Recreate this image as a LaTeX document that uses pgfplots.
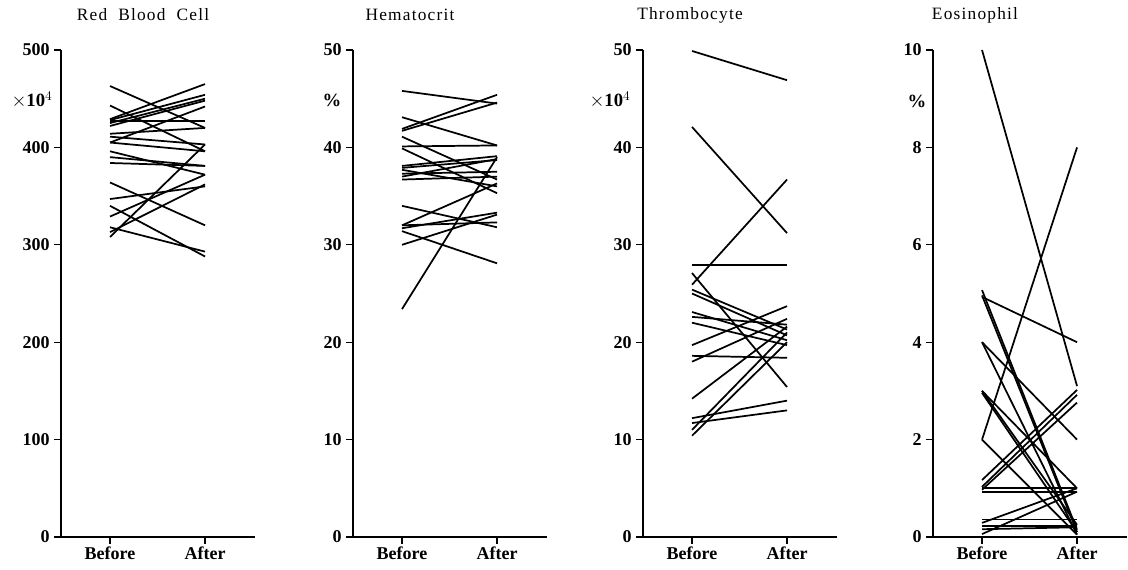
\documentclass[border=0pt]{standalone}
\usepackage{pgfplots}
\pgfplotsset{compat=1.18}
\usepackage{fontspec}
\setmainfont{Liberation Serif}
\newfontfamily\titlefont[LetterSpace=7]{Liberation Serif}
\newcommand\pl[2]{\addplot[black, line width=1.3pt] coordinates {(0,#1) (1,#2)};}
\pgfplotsset{
  panel/.style={
    scale only axis, width=145.5pt, height=365.25pt, anchor=south west,
    axis x line=bottom, axis y line=left,
    axis line style={-, line width=0.9pt},
    xmin=-0.516, xmax=1.526, ymin=0,
    xtick={0,1}, xticklabels={Before,After},
    tick align=outside, major tick length=5pt,
    tick style={black, line width=0.9pt},
    /pgf/number format/assume math mode=true,
    ticklabel style={font=\bfseries\fontsize{13.5}{15}\selectfont},
    xticklabel style={yshift=1pt},
    clip=false,
  }
}
\begin{document}
\begin{tikzpicture}
\useasboundingbox (0,0) rectangle (846pt,426.75pt);
% Red Blood Cell
\begin{axis}[panel, at={(45.75pt,24pt)}, ymax=500, ytick={0,100,200,300,400,500}]
\pl{463}{420}
\pl{443}{396}
\pl{429}{465}
\pl{428}{454}
\pl{427}{427}
\pl{425}{450}
\pl{422}{448}
\pl{414}{420}
\pl{411}{403}
\pl{405}{442}
\pl{405}{396}
\pl{396}{372}
\pl{390}{381}
\pl{384}{381}
\pl{364}{320}
\pl{347}{360}
\pl{340}{288}
\pl{329}{372}
\pl{318}{293}
\pl{313}{362}
\pl{308}{403}
\end{axis}
% Hematocrit
\begin{axis}[panel, at={(264.75pt,24pt)}, ymax=50, ytick={0,10,20,30,40,50}]
\pl{45.8}{44.5}
\pl{43.1}{40.2}
\pl{41.9}{45.4}
\pl{41.7}{44.6}
\pl{41.1}{36.7}
\pl{40.1}{40.2}
\pl{39.9}{35.3}
\pl{38.1}{39.1}
\pl{37.9}{38.7}
\pl{37.7}{36.0}
\pl{37.3}{37.5}
\pl{37.0}{38.8}
\pl{36.7}{37.0}
\pl{34.0}{31.8}
\pl{32.0}{36.3}
\pl{32.0}{32.3}
\pl{31.7}{33.3}
\pl{31.4}{28.1}
\pl{30.0}{33.1}
\pl{23.4}{39.0}
\end{axis}
% Thrombocyte
\begin{axis}[panel, at={(482.25pt,24pt)}, ymax=50, ytick={0,10,20,30,40,50}]
\pl{49.9}{46.9}
\pl{42.1}{31.2}
\pl{25.9}{36.7}
\pl{27.9}{27.9}
\pl{27.1}{15.4}
\pl{25.4}{21.3}
\pl{25.0}{20.7}
\pl{23.1}{20.2}
\pl{22.6}{21.8}
\pl{22.0}{19.7}
\pl{19.7}{23.7}
\pl{18.6}{18.4}
\pl{18.0}{22.4}
\pl{14.2}{21.6}
\pl{12.2}{14.0}
\pl{11.7}{13.0}
\pl{11.0}{21.0}
\pl{10.4}{20.0}
\end{axis}
% Eosinophil
\begin{axis}[panel, at={(699.75pt,24pt)}, ymax=10, ytick={0,2,4,6,8,10}]
\pl{10.0}{3.1}
\pl{2.0}{8.0}
\pl{5.07}{0.15}
\pl{4.96}{0.1}
\pl{4.93}{4.0}
\pl{4.0}{2.0}
\pl{4.0}{0.05}
\pl{3.0}{0.25}
\pl{2.96}{0.1}
\pl{3.0}{1.0}
\pl{2.0}{0.05}
\pl{1.17}{3.02}
\pl{1.03}{2.92}
\pl{0.97}{2.76}
\pl{1.0}{1.0}
\pl{0.93}{0.93}
\pl{0.36}{0.36}
\pl{0.29}{1.0}
\pl{0.23}{0.23}
\pl{0.16}{0.2}
\pl{0.06}{0.93}
\end{axis}
% titles and units
\begin{scope}[every node/.style={font=\titlefont\fontsize{13}{15}\selectfont}]
\node at (107.25pt,415.5pt) {Red\ \ Blood\ \ Cell};
\node at (307.5pt,415.5pt) {Hematocrit};
\node at (517.5pt,415.5pt) {Thrombocyte};
\node at (731.25pt,415.5pt) {Eosinophil};
\end{scope}
\node[font=\fontsize{14}{16}\selectfont] at (24pt,351.75pt) {$\times$\textbf{10}$^4$};
\node[font=\bfseries\fontsize{14}{16}\selectfont] at (249pt,351.75pt) {\%};
\node[font=\fontsize{14}{16}\selectfont] at (457.5pt,351.75pt) {$\times$\textbf{10}$^4$};
\node[font=\bfseries\fontsize{14}{16}\selectfont] at (687.75pt,351pt) {\%};
\end{tikzpicture}
\end{document}
